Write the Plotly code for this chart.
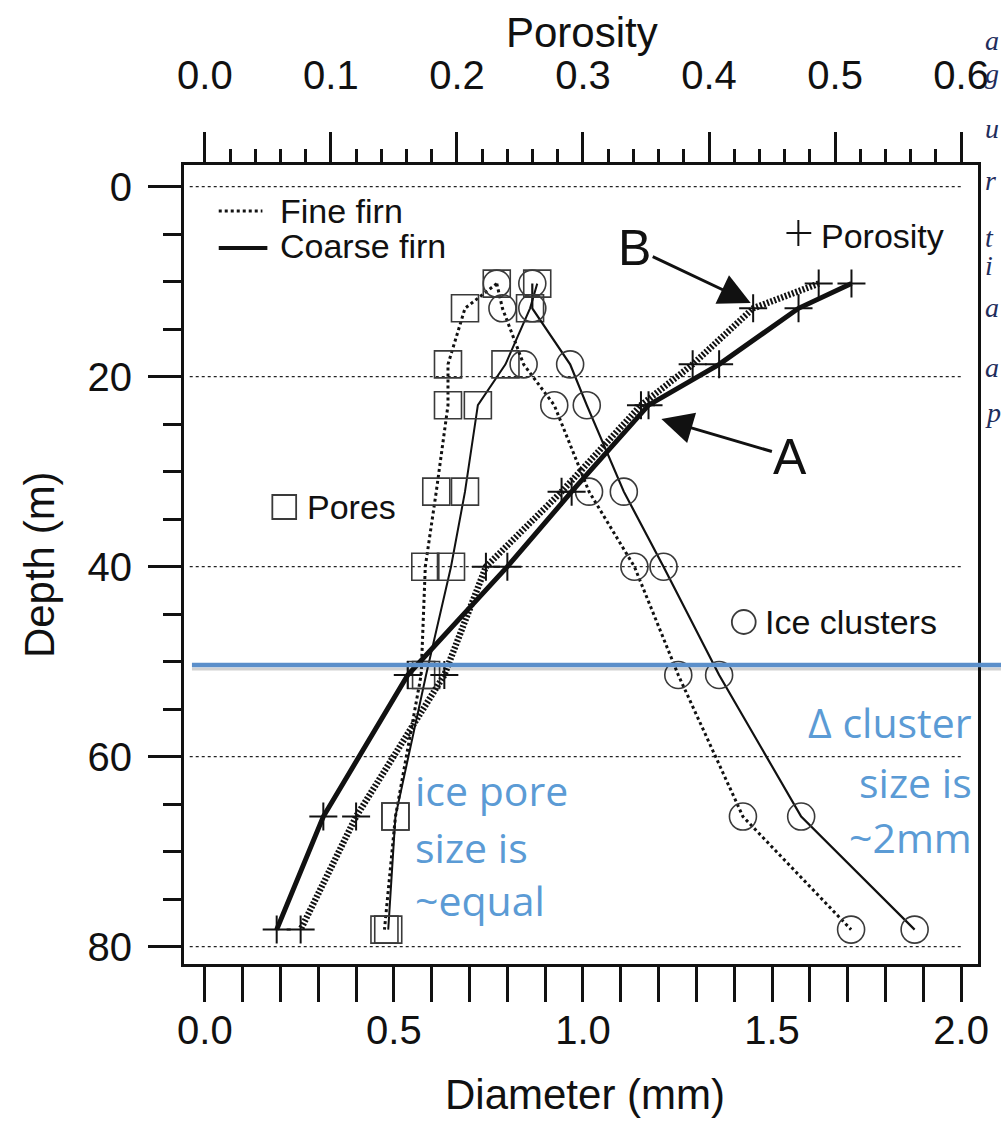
import plotly.graph_objects as go

# ---------------- data ----------------
depth = [10.2, 12.8, 18.7, 23.0, 32.1, 40.0, 51.4, 66.3, 78.2]          # m
porosity_fine = [0.487, 0.435, 0.387, 0.346, 0.283, 0.223, 0.190, 0.120, 0.076]
porosity_coarse = [0.513, 0.471, 0.408, 0.352, 0.291, 0.240, 0.161, 0.094, 0.057]
pores_fine = [0.772, 0.688, 0.643, 0.643, 0.612, 0.583, 0.572, 0.504, 0.475]   # mm
pores_coarse = [0.879, 0.860, 0.795, 0.722, 0.688, 0.651, 0.585, 0.504, 0.485]
clusters_fine = [0.772, 0.787, 0.843, 0.924, 1.016, 1.136, 1.252, 1.423, 1.709]
clusters_coarse = [0.866, 0.866, 0.966, 1.010, 1.108, 1.213, 1.360, 1.577, 1.877]
grid_depths = [0, 20, 40, 60, 80]
marked_depth = 50.35

# ---------------- geometry ----------------
W, H = 1001, 1125
L, R, T, B = 184, 17, 165, 161
PW, PH = W - L - R, H - T - B


def px(x):
    return (x - L) / PW


def py(y):
    return (H - B - y) / PH


diam_range = [(184 - 205) / 381, (984 - 205) / 381]
por_range = [(184 - 205) / 1270, (984 - 205) / 1270]
depth_range = [(964 - 186.7) / 9.5, (165 - 186.7) / 9.5]

BLK = "#111111"
MK = "#3a3a3a"
FONT = "Liberation Sans, Arial, sans-serif"
BLUE = "#5b9bd5"

fig = go.Figure()

sq = dict(symbol="square", size=27, color="rgba(0,0,0,0)", line=dict(color=MK, width=1.6))
ci = dict(symbol="circle", size=27, color="rgba(0,0,0,0)", line=dict(color=MK, width=1.6))
pl = dict(symbol="cross-thin", size=20, color=BLK, line=dict(color=BLK, width=2))

fig.add_trace(go.Scatter(x=pores_fine, y=depth, mode="lines+markers",
                         line=dict(color=BLK, width=3, dash="dot"), marker=sq))
fig.add_trace(go.Scatter(x=pores_coarse, y=depth, mode="lines+markers",
                         line=dict(color=BLK, width=2), marker=sq))
fig.add_trace(go.Scatter(x=clusters_fine, y=depth, mode="lines+markers",
                         line=dict(color=BLK, width=3, dash="dot"), marker=ci))
fig.add_trace(go.Scatter(x=clusters_coarse, y=depth, mode="lines+markers",
                         line=dict(color=BLK, width=2.2), marker=ci))
fig.add_trace(go.Scatter(x=porosity_fine, y=depth, xaxis="x2", mode="lines+markers",
                         line=dict(color=BLK, width=6.5, dash="2px,1.8px"),
                         marker=pl))
fig.add_trace(go.Scatter(x=porosity_coarse, y=depth, xaxis="x2", mode="lines+markers",
                         line=dict(color=BLK, width=5),
                         marker=pl))

shapes = []
for d in grid_depths:
    shapes.append(dict(type="line", xref="x", yref="y", x0=-0.04, x1=2.005, y0=d, y1=d,
                       line=dict(color="#222222", width=1.2, dash="3px,3px"), layer="below"))

# legend samples / symbols
shapes += [
    dict(type="line", xref="paper", yref="paper", x0=px(219), x1=px(263), y0=py(211), y1=py(211),
         line=dict(color=BLK, width=3, dash="dot")),
    dict(type="line", xref="paper", yref="paper", x0=px(219), x1=px(268), y0=py(248), y1=py(248),
         line=dict(color=BLK, width=4)),
    dict(type="line", xref="paper", yref="paper", x0=px(791), x1=px(816), y0=py(233), y1=py(233),
         line=dict(color=BLK, width=2)),
    dict(type="line", xref="paper", yref="paper", x0=px(803), x1=px(803), y0=py(220), y1=py(246),
         line=dict(color=BLK, width=2)),
    dict(type="rect", xref="paper", yref="paper", x0=px(273), x1=px(297), y0=py(519), y1=py(495),
         line=dict(color=MK, width=1.8)),
    dict(type="circle", xref="paper", yref="paper", x0=px(736), x1=px(760), y0=py(634), y1=py(610),
         line=dict(color=MK, width=1.8)),
]

# blue marker line with soft shadow
ymk = 186.7 + marked_depth * 9.5
shapes += [
    dict(type="line", xref="paper", yref="paper", x0=px(192), x1=px(1010), y0=py(ymk + 4), y1=py(ymk + 4),
         line=dict(color="rgba(0,0,0,0.18)", width=3)),
    dict(type="line", xref="paper", yref="paper", x0=px(192), x1=px(1010), y0=py(ymk), y1=py(ymk),
         line=dict(color="#5b8fca", width=4.5)),
]

ann = []


def txt(t, x, y, size=34, xanchor="center", color=BLK, family=FONT, angle=0):
    ann.append(dict(text=t, x=px(x), y=py(y), xref="paper", yref="paper", showarrow=False,
                    xanchor=xanchor, yanchor="middle", textangle=angle,
                    font=dict(size=size, color=color, family=family)))


txt("Porosity", 585, 33, 42)
txt("Diameter (mm)", 588, 1094, 42)
txt("Depth (m)", 38, 565, 42, angle=-90)
txt("Fine firn", 279, 211, 34, "left")
txt("Coarse firn", 279, 246, 34, "left")
txt("Porosity", 824, 236, 34, "left")
txt("Pores", 306, 507, 34, "left")
txt("Ice clusters", 767, 622, 34, "left")

OS = "Open Sans, Noto Sans, sans-serif"
txt("ice pore", 415, 790, 41, "left", BLUE, OS)
txt("size is", 415, 847, 41, "left", BLUE, OS)
txt("~equal", 415, 900, 41, "left", BLUE, OS)
txt("Δ cluster", 980, 722, 41, "right", BLUE, OS)
txt("size is", 980, 782, 41, "right", BLUE, OS)
txt("~2mm", 980, 837, 41, "right", BLUE, OS)

# clipped document text at the right edge
for ch, yy in zip(["a", "g", "u", "r", "t", "i", "a", "a", "p"],
                  [40, 74, 128, 180, 237, 265, 307, 367, 412]):
    txt("<i>" + ch + "</i>", 989, yy, 28, "left", "#1f2d5c", "Liberation Serif, serif")

# arrows
ann.append(dict(text="B", x=px(755), y=py(303), xref="paper", yref="paper", showarrow=True,
                ax=-116, ay=-55, arrowhead=2, arrowsize=2.1, arrowwidth=3, arrowcolor=BLK,
                font=dict(size=50, color=BLK, family=FONT)))
ann.append(dict(text="A", x=px(665), y=py(419), xref="paper", yref="paper", showarrow=True,
                ax=129, ay=38, arrowhead=2, arrowsize=2.1, arrowwidth=3, arrowcolor=BLK,
                font=dict(size=50, color=BLK, family=FONT)))

tickfont = dict(size=40, color=BLK, family=FONT)

fig.update_layout(
    width=W, height=H,
    margin=dict(l=L, r=R, t=T, b=B, pad=0),
    paper_bgcolor="white", plot_bgcolor="white",
    showlegend=False,
    shapes=shapes, annotations=ann,
    xaxis=dict(range=diam_range, tick0=0, dtick=0.5, tickformat=".1f",
               ticks="outside", ticklen=35, tickwidth=2.5, tickcolor=BLK,
               minor=dict(dtick=0.1, ticks="outside", ticklen=35, tickwidth=2.5, tickcolor=BLK),
               showline=True, mirror=True, linewidth=3, linecolor=BLK,
               showgrid=False, zeroline=False, tickfont=tickfont, ticklabelstandoff=-6),
    xaxis2=dict(range=por_range, overlaying="x", side="top", anchor="y",
                tick0=0, dtick=0.1, tickformat=".1f",
                ticks="outside", ticklen=32, tickwidth=2.5, tickcolor=BLK,
                minor=dict(dtick=0.02, ticks="outside", ticklen=15, tickwidth=2.5, tickcolor=BLK),
                showline=False, showgrid=False, zeroline=False, tickfont=tickfont,
                ticklabelstandoff=27),
    yaxis=dict(range=depth_range, tick0=0, dtick=20,
               ticks="outside", ticklen=33, tickwidth=2.5, tickcolor=BLK,
               minor=dict(dtick=5, ticks="outside", ticklen=18, tickwidth=2.5, tickcolor=BLK),
               showline=True, mirror=True, linewidth=3, linecolor=BLK,
               showgrid=False, zeroline=False, tickfont=tickfont, ticklabelstandoff=8),
)

fig.write_html("out.html", config={"displayModeBar": False})
